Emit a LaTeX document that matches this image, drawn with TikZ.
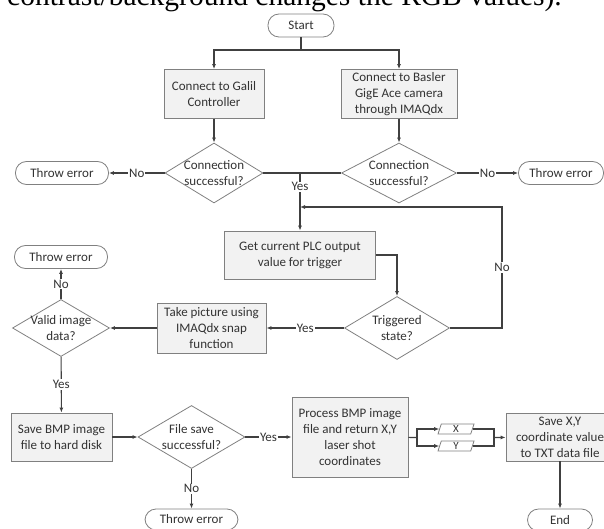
\documentclass[tikz,border=0pt]{standalone}
\usepackage{fontspec}
\setmainfont{Carlito}
\newfontfamily\paperfont{Liberation Serif}
\usetikzlibrary{shapes.geometric,arrows.meta}

\begin{document}
\begin{tikzpicture}[x=1pt,y=-1pt,
	every node/.style={text=black!80,font=\fontsize{13}{16}\selectfont},
	proc/.style={draw=black!50,fill=black!5,line width=0.8pt,align=center,inner sep=0,minimum height=49pt},
	term/.style={draw=black!50,fill=white,line width=0.8pt,rounded corners=11pt,inner sep=0,minimum height=23pt},
	dec/.style={draw=black!50,fill=white,line width=0.8pt,diamond,inner sep=0},
	dtext/.style={align=center,inner sep=0},
	io/.style={draw=black!50,fill=white,line width=0.8pt,trapezium,trapezium left angle=65,trapezium right angle=115,trapezium stretches body,minimum width=36pt,minimum height=10pt,inner sep=0,font=\fontsize{11}{11}\selectfont},
	lbl/.style={fill=white,inner sep=1pt},
	flow/.style={draw=black!75,line width=1.1pt},
	arr/.style={-{Latex[length=5pt,width=4pt]}}]
	\useasboundingbox (0,0) rectangle (604,529);
	\node[anchor=base west,inner sep=0,text=black,font=\paperfont\fontsize{29.5}{30}\selectfont] (0) at (7,5.5) {contrast/background changes the RGB values).};
	\node[term,minimum width=66pt] (1) at (301,25.5) {Start};
	\node[proc,minimum width=100pt] (2) at (214,94) {Connect to Galil\\Controller};
	\node[proc,minimum width=116pt] (3) at (399,94) {Connect to Basler\\GigE Ace camera\\through IMAQdx};
	\node[dec,minimum width=98pt,minimum height=60pt,label={[dtext]center:Connection\\successful?}] (4) at (214,173) {};
	\node[dec,minimum width=115pt,minimum height=60pt,label={[dtext]center:Connection\\successful?}] (5) at (399,173) {};
	\node[term,minimum width=93pt] (6) at (62,173) {Throw error};
	\node[term,minimum width=85pt] (7) at (561,173) {Throw error};
	\node[proc,minimum width=151pt,minimum height=48pt] (8) at (300,255) {Get current PLC output\\value for trigger};
	\node[dec,minimum width=105pt,minimum height=63pt,label={[dtext]center:Triggered\\state?}] (9) at (397,328) {};
	\node[proc,minimum width=109pt,minimum height=50pt] (10) at (211.5,328) {Take picture using\\IMAQdx snap\\function};
	\node[dec,minimum width=97pt,minimum height=57pt,label={[dtext]center:Valid image\\data?}] (11) at (61,328) {};
	\node[term,minimum width=93pt] (12) at (61,257) {Throw error};
	\node[proc,minimum width=101pt,minimum height=48pt] (13) at (61.5,437) {Save BMP image\\file to hard disk};
	\node[dec,minimum width=107pt,minimum height=63pt,label={[dtext]center:File save\\successful?}] (14) at (191.5,437) {};
	\node[term,minimum width=93pt,minimum height=21pt] (15) at (191.5,519.5) {Throw error};
	\node[proc,minimum width=116pt,minimum height=80pt] (16) at (350,437) {Process BMP image\\file and return X,Y\\laser shot\\coordinates};
	\node[io] (17) at (456,429) {X};
	\node[io] (18) at (456,446) {Y};
	\node[proc,minimum width=108pt,minimum height=48pt] (19) at (560,437) {Save X,Y\\coordinate value\\to TXT data file};
	\node[term,minimum width=65pt,minimum height=22pt] (20) at (560,520) {End};
	\coordinate (a) at (301,50);
	\coordinate (b) at (300,173);
	\coordinate (c) at (502,207);
	\coordinate (d) at (300,207);
	\coordinate (e) at (417,437.5);
	\coordinate (f) at (494,437.5);
	\draw[flow] (1) -- (a);
	\draw[flow,arr] (a) -| (2);
	\draw[flow,arr] (a) -| (3);
	\draw[flow,arr] (2) -- (4);
	\draw[flow,arr] (3) -- (5);
	\draw[flow,arr] (4) -- node[lbl] {No} (6);
	\draw[flow,arr] (5) -- node[lbl] {No} (7);
	\draw[flow] (4) -- (5);
	\draw[flow,arr] (b) -- node[lbl,pos=0.24] {Yes} (8);
	\draw[flow,arr] (8) -| (9);
	\draw[flow,arr] (9) -| node[lbl,pos=0.75] {No} (c) -- (d);
	\draw[flow,arr] (9) -- node[lbl] {Yes} (10);
	\draw[flow,arr] (10) -- (11);
	\draw[flow,arr] (11) -- node[lbl] {No} (12);
	\draw[flow,arr] (11) -- node[lbl] {Yes} (13);
	\draw[flow,arr] (13) -- (14);
	\draw[flow,arr] (14) -- node[lbl] {No} (15);
	\draw[flow,arr] (14) -- node[lbl] {Yes} (16);
	\draw[flow] (16) -- (e);
	\draw[flow,arr] (e) |- (17);
	\draw[flow,arr] (e) |- (18);
	\draw[flow] (17) -| (f);
	\draw[flow] (18) -| (f);
	\draw[flow,arr] (f) -- (19);
	\draw[flow,arr] (19) -- (20);
\end{tikzpicture}
\end{document}
